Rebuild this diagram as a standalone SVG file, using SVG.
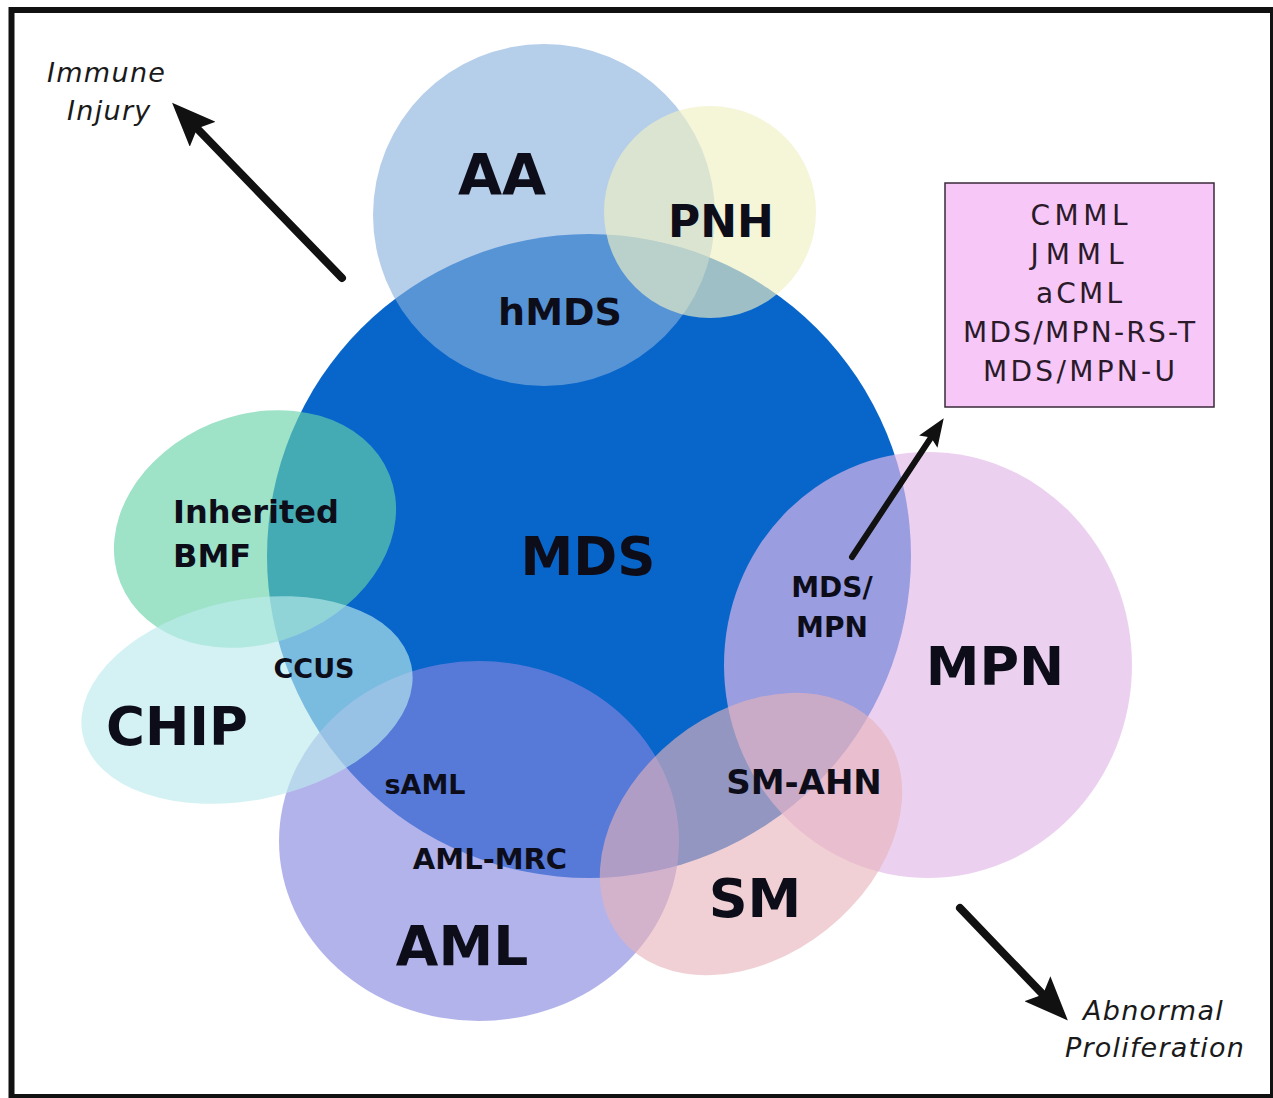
<svg xmlns="http://www.w3.org/2000/svg" width="1273" height="1098" viewBox="0 0 1273 1098">
<style>
.lbl{font-family:"DejaVu Sans","Liberation Sans",sans-serif;font-weight:bold;fill:#0d0d1a;text-anchor:middle}
.it{font-family:"DejaVu Sans","Liberation Sans",sans-serif;font-style:italic;fill:#1a1a1a;letter-spacing:1.3px}
.box{font-family:"DejaVu Sans","Liberation Sans",sans-serif;font-size:28px;fill:#2a1a2a;text-anchor:middle}
.arr{stroke:#111;fill:none;stroke-linecap:round}
</style>
<defs>
<marker id="hl" viewBox="0 0 44 36" markerWidth="44" markerHeight="36" markerUnits="userSpaceOnUse" refX="24" refY="18" orient="auto">
<path d="M0,0 L44,18 L0,36 L8,18 z" fill="#111"/>
</marker>
<marker id="hs" viewBox="0 0 28 22" markerWidth="28" markerHeight="22" markerUnits="userSpaceOnUse" refX="14" refY="11" orient="auto">
<path d="M0,0 L28,11 L0,22 L5,11 z" fill="#111"/>
</marker>
</defs>
<rect x="0" y="0" width="1273" height="1098" fill="#ffffff"/>
<rect x="11.5" y="10" width="1261.5" height="1087" fill="none" stroke="#111" stroke-width="6"/>

<g id="node-MDS"><circle cx="589" cy="556" r="322" fill="#0866cb"/></g>
<g id="node-AA"><circle cx="544" cy="215" r="171" fill="#87b0dd" fill-opacity="0.62"/></g>
<g id="node-PNH"><circle cx="710" cy="212" r="106" fill="#f0f0c3" fill-opacity="0.65"/></g>
<g id="node-AML"><ellipse cx="479" cy="841" rx="200" ry="180" fill="#8787e0" fill-opacity="0.63"/></g>
<g id="node-MPN"><ellipse cx="928" cy="665" rx="204" ry="213" fill="#e3b9e9" fill-opacity="0.67"/></g>
<g id="node-SM"><ellipse cx="751" cy="834" rx="167" ry="122" transform="rotate(-38.5 751 834)" fill="#e7b3b9" fill-opacity="0.62"/></g>
<g id="node-BMF"><ellipse cx="255" cy="529" rx="145" ry="114" transform="rotate(-22 255 529)" fill="#67d1a9" fill-opacity="0.64"/></g>
<g id="node-CHIP"><ellipse cx="247" cy="700" rx="168" ry="100" transform="rotate(-12 247 700)" fill="#bbeaed" fill-opacity="0.64"/></g>

<g id="node-box">
<rect x="945" y="183" width="269" height="224" fill="#f7c8f7" stroke="#3a2a3a" stroke-width="1.5"/>
<text class="box" x="1079" y="225" textLength="97" lengthAdjust="spacing">CMML</text>
<text class="box" x="1077" y="264" textLength="93" lengthAdjust="spacing">JMML</text>
<text class="box" x="1079" y="303" textLength="86" lengthAdjust="spacing">aCML</text>
<text class="box" x="1079" y="342" textLength="232" lengthAdjust="spacing">MDS/MPN-RS-T</text>
<text class="box" x="1079" y="381" textLength="192" lengthAdjust="spacing">MDS/MPN-U</text>
</g>

<g id="labels">
<text class="lbl" x="502" y="195" font-size="57">AA</text>
<text class="lbl" x="721" y="237" font-size="44">PNH</text>
<text class="lbl" x="560" y="325" font-size="38">hMDS</text>
<text class="lbl" x="588" y="575" font-size="53">MDS</text>
<text class="lbl" x="173" y="523" font-size="32" style="text-anchor:start">Inherited</text>
<text class="lbl" x="173" y="567" font-size="32" style="text-anchor:start">BMF</text>
<text class="lbl" x="314" y="678" font-size="27">CCUS</text>
<text class="lbl" x="177" y="745" font-size="53">CHIP</text>
<text class="lbl" x="425" y="794" font-size="27">sAML</text>
<text class="lbl" x="490" y="869" font-size="29">AML-MRC</text>
<text class="lbl" x="462" y="965" font-size="55">AML</text>
<text class="lbl" x="804" y="794" font-size="34">SM-AHN</text>
<text class="lbl" x="755" y="917" font-size="54">SM</text>
<text class="lbl" x="832" y="597" font-size="28">MDS/</text>
<text class="lbl" x="832" y="637" font-size="28">MPN</text>
<text class="lbl" x="995" y="685" font-size="54">MPN</text>
</g>

<g id="annotations">
<text class="it" x="47" y="82" font-size="27">Immune</text>
<text class="it" x="67" y="120" font-size="27">Injury</text>
<text class="it" x="1083" y="1020" font-size="27">Abnormal</text>
<text class="it" x="1065" y="1057" font-size="27" style="letter-spacing:1.2px">Proliferation</text>
</g>

<g id="connectors">
<line class="arr" x1="342" y1="278" x2="186" y2="117" stroke-width="8" marker-end="url(#hl)"/>
<line class="arr" x1="852" y1="557" x2="936" y2="430" stroke-width="6" marker-end="url(#hs)"/>
<line class="arr" x1="960" y1="908" x2="1054" y2="1006" stroke-width="8" marker-end="url(#hl)"/>
</g>
</svg>
